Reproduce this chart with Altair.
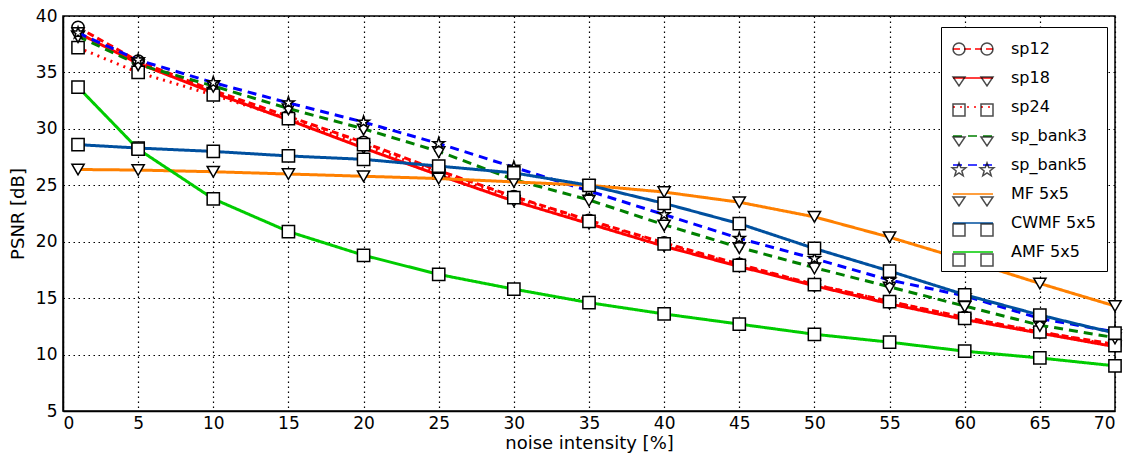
import math

import altair as alt
import pandas as pd

# Noise intensity levels [%]
noise = [1, 5, 10, 15, 20, 25, 30, 35, 40, 45, 50, 55, 60, 65, 70]

series_names = ["sp12", "sp18", "sp24", "sp_bank3", "sp_bank5", "MF 5x5", "CWMF 5x5", "AMF 5x5"]

# PSNR [dB] per filter
sp12 = [39.0, 36.0, 33.4, 31.1, 28.8, 26.3, 24.0, 21.9, 19.9, 18.0, 16.2, 14.7, 13.3, 12.0, 10.9]
sp18 = [38.5, 35.8, 33.2, 30.8, 28.3, 25.9, 23.6, 21.6, 19.6, 17.8, 16.1, 14.5, 13.1, 11.9, 10.7]
sp24 = [37.2, 35.0, 33.0, 30.9, 28.6, 26.1, 23.9, 21.8, 19.8, 17.9, 16.2, 14.7, 13.2, 12.0, 10.8]
sp_bank3 = [38.2, 35.7, 33.8, 31.8, 30.0, 28.0, 25.5, 23.7, 21.5, 19.5, 17.7, 16.0, 14.3, 12.6, 11.5]
sp_bank5 = [38.5, 36.1, 34.1, 32.3, 30.6, 28.7, 26.6, 24.5, 22.4, 20.3, 18.5, 16.6, 15.2, 13.2, 12.0]
mf = [26.4, 26.35, 26.2, 26.0, 25.8, 25.6, 25.3, 25.0, 24.4, 23.5, 22.2, 20.4, 18.4, 16.3, 14.3]
cwmf = [28.6, 28.3, 28.0, 27.6, 27.3, 26.7, 26.1, 25.0, 23.4, 21.6, 19.4, 17.4, 15.3, 13.5, 11.9]
amf = [33.7, 28.2, 23.8, 20.9, 18.8, 17.1, 15.8, 14.6, 13.6, 12.7, 11.8, 11.1, 10.3, 9.7, 9.0]

all_values = [sp12, sp18, sp24, sp_bank3, sp_bank5, mf, cwmf, amf]

line_colors = ["#ff0000", "#ff0000", "#ff0000", "#008000", "#0000ff", "#ff8000", "#00509f", "#00cc00"]
dashes = [[7, 4], [1, 0], [2, 5], [9, 6], [9, 6], [1, 0], [1, 0], [1, 0]]

STAR = ("M0,-1L0.2245,-0.309L0.951,-0.309L0.363,0.118L0.588,0.809L0,0.382"
        "L-0.588,0.809L-0.363,0.118L-0.951,-0.309L-0.2245,-0.309Z")
TRI_DOWN = "M-1,-0.75L1,-0.75L0,1Z"
marker_shapes = ["circle", "triangle-down", "square", TRI_DOWN, STAR,
                 "triangle-down", "square", "square"]
marker_kind = ["circle", "tri", "square", "tri", "star", "tri", "square", "square"]


# Legend keys: a marker at each end of a short line (symbol units, 10 px each)
def pair_path(kind, centers=(-0.4, 2.4), r=0.6):
    parts = []
    for c in centers:
        if kind == "square":
            parts.append(f"M{c - r:.3f},{-r:.3f}H{c + r:.3f}V{r:.3f}H{c - r:.3f}Z")
        elif kind == "circle":
            parts.append(f"M{c - r:.3f},0A{r:.3f},{r:.3f} 0 1,0 {c + r:.3f},0"
                         f"A{r:.3f},{r:.3f} 0 1,0 {c - r:.3f},0Z")
        elif kind == "tri":
            parts.append(f"M{c - r:.3f},{-0.5 * r:.3f}L{c + r:.3f},{-0.5 * r:.3f}L{c:.3f},{r:.3f}Z")
        else:
            pts = []
            for i in range(10):
                a = -math.pi / 2 + i * math.pi / 5
                rad = 0.72 if i % 2 == 0 else 0.3
                pts.append(f"{c + rad * math.cos(a):.3f},{rad * math.sin(a):.3f}")
            parts.append("M" + "L".join(pts) + "Z")
    return "".join(parts)


legend_paths = [pair_path(k) for k in marker_kind]

rows = []
for name, vals in zip(series_names, all_values):
    for xv, yv in zip(noise, vals):
        rows.append({"series": name, "marker": name, "noise": xv, "psnr": yv})
df = pd.DataFrame(rows)

x_enc = alt.X("noise:Q", title="noise intensity [%]",
              scale=alt.Scale(domain=[0, 70], nice=False),
              axis=alt.Axis(values=list(range(0, 71, 5)), format="d"))
y_enc = alt.Y("psnr:Q", title="PSNR [dB]",
              scale=alt.Scale(domain=[5, 40], nice=False),
              axis=alt.Axis(values=list(range(5, 41, 5)), format="d"))

common_legend = dict(
    title=None, orient="none", legendX=878, legendY=11, padding=11,
    labelFontSize=16, labelFont="DejaVu Sans", labelOffset=37,
    symbolSize=400, symbolStrokeWidth=1.5, rowPadding=10, cornerRadius=0,
)

# Line part of the legend keys (box, labels, coloured line segments)
line_legend = alt.Legend(
    fillColor="white", strokeColor="black", labelColor="black",
    symbolType="M-1,0H3", **common_legend,
)
# Marker part of the legend keys, drawn over the line legend (no labels of its own)
marker_legend = alt.Legend(
    labelColor="black", labelExpr="''", symbolFillColor="white",
    symbolStrokeColor="black", zindex=2, **common_legend,
)

color_enc = alt.Color("series:N", scale=alt.Scale(domain=series_names, range=line_colors),
                      legend=line_legend)
dash_enc = alt.StrokeDash("series:N", scale=alt.Scale(domain=series_names, range=dashes),
                          legend=line_legend)

layers = []
for name, shp in zip(series_names, marker_shapes):
    sub = df[df["series"] == name]
    layers.append(
        alt.Chart(sub).mark_line().encode(
            x=x_enc, y=y_enc, color=color_enc, strokeDash=dash_enc,
            strokeWidth=alt.value(3))
    )
    layers.append(
        alt.Chart(sub).mark_point(shape=shp, filled=True, fill="white", fillOpacity=1,
                                  stroke="black", strokeWidth=1.5, size=150, opacity=1)
        .encode(x=x_enc, y=y_enc)
    )

# Points kept outside the clipped view: they only carry the marker legend
layers.append(
    alt.Chart(df).mark_point(clip=True)
    .encode(
        x=alt.value(-2000), y=alt.value(-2000),
        shape=alt.Shape("marker:N", sort=series_names,
                        scale=alt.Scale(range=legend_paths), legend=marker_legend),
    )
)

chart = alt.layer(*layers).properties(
    width=1052, height=395,
    padding={"left": 63, "top": 16, "right": 20, "bottom": 46},
    autosize=alt.AutoSizeParams(type="none"),
    background="white",
).configure_view(
    stroke="black", strokeWidth=1.5,
).configure_axis(
    grid=True, gridColor="black", gridDash=[1.5, 3.5], gridWidth=1.2, gridOpacity=1,
    domainColor="black", domainWidth=1.5,
    ticks=False,
    labelFontSize=17, labelFont="DejaVu Sans", labelColor="black",
    titleFontSize=18, titleFont="DejaVu Sans", titleFontWeight="normal", titleColor="black",
).configure_axisX(
    labelPadding=4, titlePadding=3,
).configure_axisY(
    labelPadding=6, titlePadding=8,
)

chart.save("out.html", embed_options={"renderer": "svg", "actions": False})
